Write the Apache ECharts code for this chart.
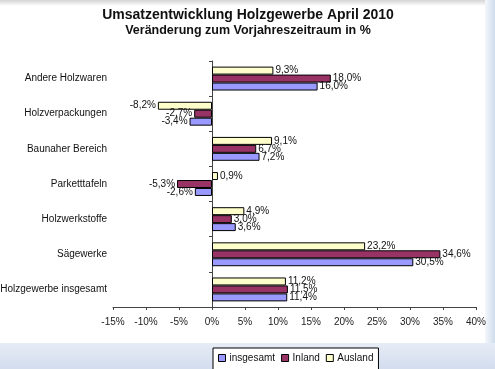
<!DOCTYPE html>
<html>
<head>
<meta charset="utf-8">
<script src="https://cdn.jsdelivr.net/npm/echarts@6/dist/echarts.min.js"></script>
<style>html,body{margin:0;padding:0;background:#fff}#c{width:495px;height:369px}</style>
</head>
<body>
<div id="c"></div>
<script>
var titleText = 'Umsatzentwicklung Holzgewerbe April 2010';
var subtitleText = 'Veränderung zum Vorjahreszeitraum in %';
var categories = ['Andere Holzwaren', 'Holzverpackungen', 'Baunaher Bereich', 'Parketttafeln', 'Holzwerkstoffe', 'Sägewerke', 'Holzgewerbe insgesamt'];
var seriesNames = ['insgesamt', 'Inland', 'Ausland'];
var insgesamt = [16.0, -3.4, 7.2, -2.6, 3.6, 30.5, 11.4];
var inland = [18.0, -2.7, 6.7, -5.3, 3.0, 34.6, 11.5];
var ausland = [9.3, -8.2, 9.1, 0.9, 4.9, 23.2, 11.2];
var xTicks = [-15, -10, -5, 0, 5, 10, 15, 20, 25, 30, 35, 40];

function fmt(v) { return v.toFixed(1).replace('.', ',') + '%'; }
function mk(name, vals, color) {
  return {
    name: name, type: 'bar', barGap: '0%', barCategoryGap: '32%',
    itemStyle: { color: color, borderColor: '#000', borderWidth: 1 },
    label: { show: true, fontSize: 10, color: '#111', fontFamily: 'Liberation Sans, Arial', distance: 2,
      formatter: function (p) { return fmt(p.value); } },
    data: vals.map(function (v) { return { value: v, label: { position: v < 0 ? 'left' : 'right' } }; })
  };
}
var chart = echarts.init(document.getElementById('c'));
chart.setOption({
  animation: false,
  backgroundColor: '#fff',
  graphic: [
    { type: 'rect', shape: { x: 0, y: 0, width: 495, height: 6 }, z: 0,
      style: { fill: new echarts.graphic.LinearGradient(0, 0, 0, 1, [{ offset: 0, color: '#d4d4d4' }, { offset: 1, color: '#ffffff' }]) } },
    { type: 'rect', shape: { x: 485, y: 0, width: 10, height: 343 }, z: 0,
      style: { fill: new echarts.graphic.LinearGradient(0, 0, 1, 0, [{ offset: 0, color: '#f4f7fb' }, { offset: 1, color: '#cfdcec' }]) } },
    { type: 'rect', shape: { x: 0, y: 343, width: 495, height: 26 }, z: 0,
      style: { fill: new echarts.graphic.LinearGradient(0, 0, 0, 1, [{ offset: 0, color: '#e6ecf6' }, { offset: 1, color: '#d3ddee' }]) } }
  ],
  title: {
    text: titleText, subtext: subtitleText, left: 243, textAlign: 'center', top: 3, itemGap: 2,
    textStyle: { fontSize: 14, fontWeight: 'bold', color: '#111', fontFamily: 'Liberation Sans, Arial' },
    subtextStyle: { fontSize: 12.5, fontWeight: 'bold', color: '#111', fontFamily: 'Liberation Sans, Arial' }
  },
  legend: {
    data: seriesNames, left: 213, top: 348, orient: 'horizontal',
    backgroundColor: '#fff', borderColor: '#000', borderWidth: 1, borderRadius: 0,
    padding: [5, 5, 8, 5], itemWidth: 7, itemHeight: 7, itemGap: 6, icon: 'rect',
    itemStyle: { borderColor: '#000', borderWidth: 1 },
    textStyle: { fontSize: 10, color: '#111', fontFamily: 'Liberation Sans, Arial', padding: [0, 0, 0, -1] }
  },
  grid: { left: 113, right: 19, top: 61, bottom: 62, containLabel: false, outerBoundsMode: 'none' },
  xAxis: {
    type: 'value', min: -15, max: 40, interval: 5,
    axisLine: { show: true, onZero: false, lineStyle: { color: '#444', width: 1 } },
    axisTick: { show: true, length: 3, lineStyle: { color: '#444' } },
    splitLine: { show: false },
    axisLabel: { fontSize: 10, color: '#222', margin: 10, fontFamily: 'Liberation Sans, Arial',
      formatter: function (v) { return xTicks.indexOf(v) >= 0 ? v + '%' : ''; } }
  },
  yAxis: {
    type: 'category', data: categories, inverse: true,
    axisLine: { show: true, onZero: true, lineStyle: { color: '#444', width: 1 } },
    axisTick: { show: true, length: 3, lineStyle: { color: '#444' } },
    axisLabel: { fontSize: 10, color: '#111', margin: 6, fontFamily: 'Liberation Sans, Arial' }
  },
  series: [mk('Ausland', ausland, '#ffffcc'), mk('Inland', inland, '#993366'), mk('insgesamt', insgesamt, '#9999ff')]
});
</script>
</body>
</html>
